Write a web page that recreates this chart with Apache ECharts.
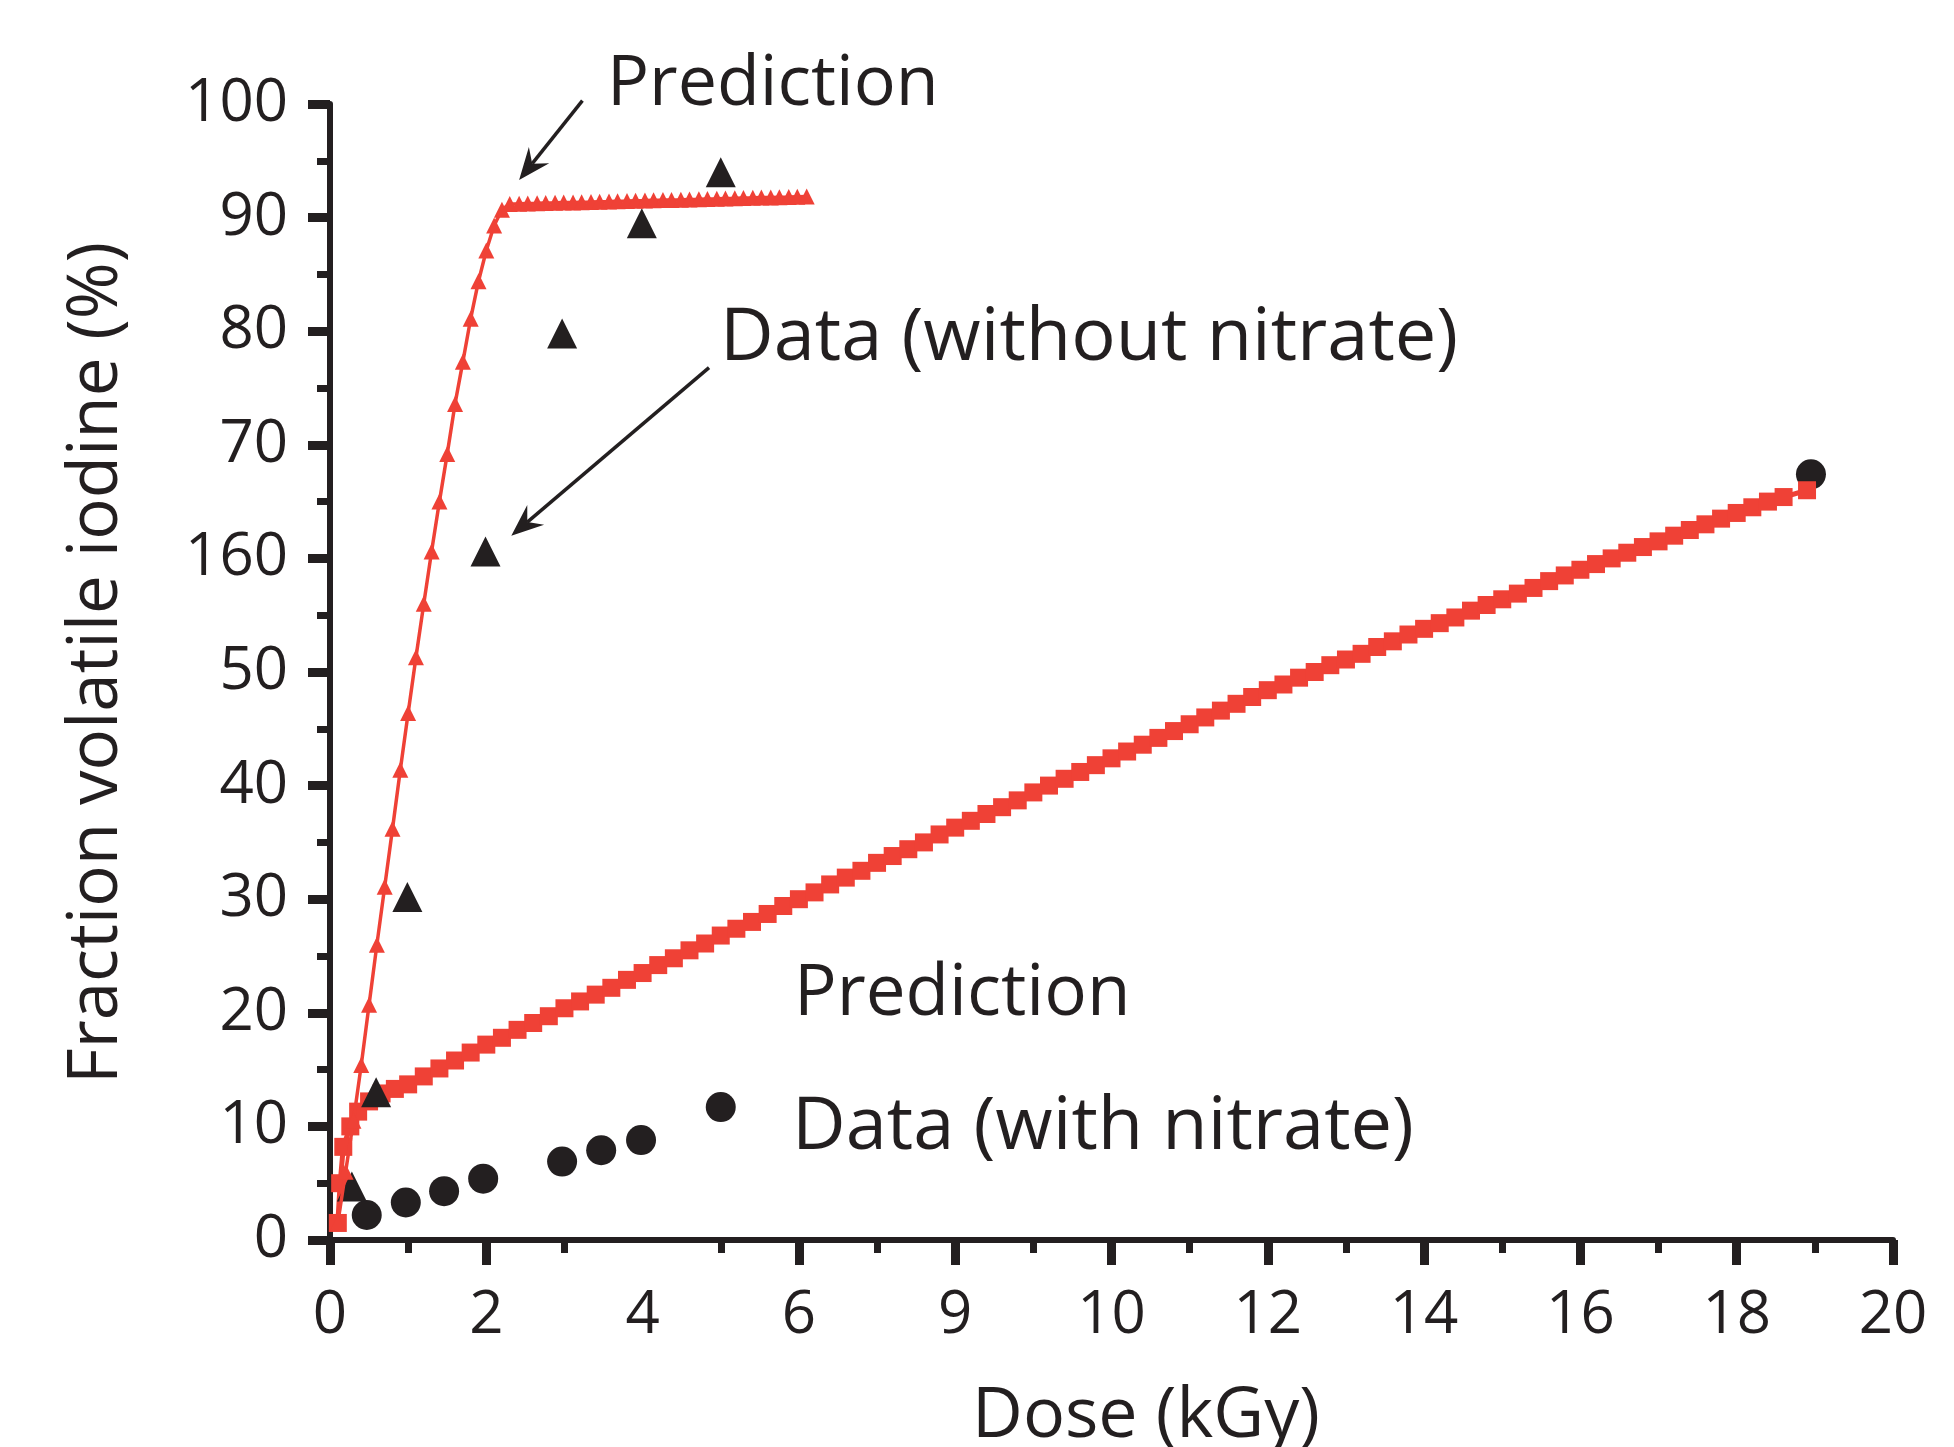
<!DOCTYPE html>
<html><head><meta charset="utf-8">
<script src="https://cdn.jsdelivr.net/npm/echarts@6/dist/echarts.min.js"></script>
<style>html,body{margin:0;padding:0;background:#fff}#c{width:1954px;height:1447px}</style>
</head><body><div id="c"></div>
<script>
// ---- axes / tick labels (as printed in the original figure) ----
const xTickValues = [0, 2, 4, 6, 8, 10, 12, 14, 16, 18, 20];
const xTickLabels = ['0', '2', '4', '6', '9', '10', '12', '14', '16', '18', '20'];
const xMajorTickMarks = [0, 2, 6, 8, 10, 12, 14, 16, 18, 20]; // tick at 4 absent in original
const yTickValues = [0, 10, 20, 30, 40, 50, 60, 70, 80, 90, 100];
const yTickLabels = ['0', '10', '20', '30', '40', '50', '160', '70', '80', '90', '100'];

// ---- Prediction (without nitrate): red line with small triangles ----
const predNoNitrateX = [0.1,0.2,0.3,0.4,0.5,0.6,0.7,0.8,0.9,1.0,1.1,1.2,1.3,1.4,1.5,1.6,1.7,1.8,1.9,2.0,2.1,2.2,
  2.30,2.42,2.53,2.65,2.76,2.88,2.99,3.11,3.22,3.34,3.45,3.57,3.68,3.80,3.91,4.03,4.14,4.26,4.37,4.49,4.60,4.72,4.83,4.95,5.06,5.18,5.29,5.41,5.52,5.64,5.75,5.87,5.98,6.10];
const predNoNitrateY = [1.5,6.0,10.5,15.4,20.7,26.0,31.1,36.2,41.4,46.4,51.3,56.0,60.6,65.0,69.2,73.6,77.3,81.1,84.4,87.1,89.3,90.7,
  91.20,91.22,91.24,91.26,91.28,91.30,91.32,91.34,91.36,91.38,91.40,91.42,91.44,91.46,91.48,91.50,91.52,91.54,91.56,91.58,91.60,91.62,91.64,91.66,91.68,91.70,91.72,91.74,91.76,91.78,91.80,91.82,91.84,91.86];

// ---- Prediction (with nitrate): red line with squares ----
const predNitrateX = [0.1,0.13,0.17,0.26,0.36,0.5,0.66,0.83,1.0,1.2,1.4,1.6,1.8,2.0,2.2,2.4,2.6,2.8,3.0,3.2,3.4,3.6,3.8,4.0,4.2,4.4,4.6,4.8,5.0,5.2,5.4,5.6,5.8,6.0,6.2,6.4,6.6,6.8,7.0,7.2,7.4,7.6,7.8,8.0,8.2,8.4,8.6,8.8,9.0,9.2,9.4,9.6,9.8,10.0,10.2,10.4,10.6,10.8,11.0,11.2,11.4,11.6,11.8,12.0,12.2,12.4,12.6,12.8,13.0,13.2,13.4,13.6,13.8,14.0,14.2,14.4,14.6,14.8,15.0,15.2,15.4,15.6,15.8,16.0,16.2,16.4,16.6,16.8,17.0,17.2,17.4,17.6,17.8,18.0,18.2,18.4,18.6,18.9];
const predNitrateY = [1.5,5.0,8.2,10.0,11.3,12.2,12.9,13.3,13.7,14.4,15.1,15.8,16.5,17.2,17.8,18.5,19.1,19.7,20.4,21.0,21.6,22.2,22.9,23.5,24.2,24.8,25.5,26.1,26.8,27.4,28.0,28.7,29.4,30.0,30.6,31.3,31.9,32.5,33.2,33.8,34.4,35.0,35.7,36.3,36.9,37.5,38.1,38.7,39.4,40.0,40.6,41.2,41.8,42.4,43.0,43.6,44.2,44.8,45.4,46.0,46.6,47.2,47.8,48.4,48.9,49.5,50.0,50.6,51.1,51.6,52.2,52.7,53.3,53.8,54.3,54.8,55.4,55.9,56.4,56.9,57.4,58.0,58.5,59.0,59.5,60.0,60.5,61.0,61.5,62.0,62.5,63.0,63.5,64.0,64.5,65.0,65.4,66.0];

// ---- Data (without nitrate): black triangles ----
const dataNoNitrateX = [0.28, 0.59, 0.99, 1.99, 2.97, 3.99, 5.0];
const dataNoNitrateY = [4.7, 13.0, 30.2, 60.6, 79.8, 89.5, 94.0];

// ---- Data (with nitrate): black circles ----
const dataNitrateX = [0.47, 0.97, 1.46, 1.96, 2.97, 3.47, 3.98, 5.0, 18.95];
const dataNitrateY = [2.2, 3.3, 4.3, 5.4, 6.9, 7.9, 8.8, 11.7, 67.4];

const INK = '#231f20';
const RED = '#ef4136';
const FONT = '"Open Sans", "Noto Sans", sans-serif';
const zip = (a, b) => a.map((v, i) => [v, b[i]]);

const chart = echarts.init(document.getElementById('c'), null, {renderer: 'canvas'});

const axisCommon = {
  type: 'value',
  splitLine: {show: false},
  axisLine: {show: true, onZero: false, lineStyle: {color: INK, width: 6}},
  minorTick: {show: true, splitNumber: 2, length: 13, lineStyle: {color: INK, width: 7}},
  axisLabel: {color: INK, fontSize: 60, fontFamily: FONT}
};

chart.setOption({
  animation: false,
  backgroundColor: '#fff',
  grid: {left: 330, right: 61, top: 104, bottom: 207, containLabel: false},
  xAxis: Object.assign({}, axisCommon, {
    min: 0, max: 20, interval: 2,
    axisTick: {show: true, length: 25, customValues: xMajorTickMarks, lineStyle: {color: INK, width: 9}},
    axisLabel: Object.assign({}, axisCommon.axisLabel, {
      margin: 46,
      formatter: v => { const i = xTickValues.indexOf(v); return i >= 0 ? xTickLabels[i] : ''; }
    })
  }),
  yAxis: Object.assign({}, axisCommon, {
    min: 0, max: 100, interval: 10,
    axisTick: {show: true, length: 22, lineStyle: {color: INK, width: 9}},
    axisLabel: Object.assign({}, axisCommon.axisLabel, {
      margin: 42,
      formatter: v => { const i = yTickValues.indexOf(v); return i >= 0 ? yTickLabels[i] : ''; }
    })
  }),
  series: [
    {
      name: 'Data (with nitrate)', type: 'scatter', z: 2,
      data: zip(dataNitrateX, dataNitrateY),
      symbol: 'circle', symbolSize: 30,
      itemStyle: {color: INK, opacity: 1}
    },
    {
      name: 'Prediction (with nitrate)', type: 'line', z: 3,
      data: zip(predNitrateX, predNitrateY),
      symbol: 'rect', symbolSize: 18, showSymbol: true,
      lineStyle: {color: RED, width: 5},
      itemStyle: {color: RED, borderWidth: 0, opacity: 1}
    },
    {
      name: 'Data (without nitrate)', type: 'scatter', z: 4,
      data: zip(dataNoNitrateX, dataNoNitrateY),
      symbol: 'triangle', symbolSize: 30,
      itemStyle: {color: INK, opacity: 1}
    },
    {
      name: 'Prediction (without nitrate)', type: 'line', z: 5,
      data: zip(predNoNitrateX, predNoNitrateY),
      symbol: 'triangle',
      symbolSize: 16,
      showSymbol: true,
      lineStyle: {color: RED, width: 3.5},
      itemStyle: {color: RED, borderWidth: 0, opacity: 1}
    }
  ]
});

// ---- annotations: arrows defined in data space, texts ----
const arrows = [
  {from: [3.23, 100.3], to: [2.42, 93.3]},
  {from: [4.85, 76.8], to: [2.32, 62.0]}
];
const graphics = [];
arrows.forEach(a => {
  const p0 = chart.convertToPixel({gridIndex: 0}, a.from);
  const p1 = chart.convertToPixel({gridIndex: 0}, a.to);
  const dx = p1[0] - p0[0], dy = p1[1] - p0[1];
  const L = Math.hypot(dx, dy), ux = dx / L, uy = dy / L, nx = -uy, ny = ux;
  const headL = 32, headW = 13, notch = 21;
  const base = [p1[0] - ux * notch, p1[1] - uy * notch];
  graphics.push({
    type: 'line', z: 10, silent: true,
    shape: {x1: p0[0], y1: p0[1], x2: base[0], y2: base[1]},
    style: {stroke: INK, lineWidth: 3.5}
  });
  graphics.push({
    type: 'polygon', z: 10, silent: true,
    shape: {points: [
      p1,
      [p1[0] - ux * headL + nx * headW, p1[1] - uy * headL + ny * headW],
      base,
      [p1[0] - ux * headL - nx * headW, p1[1] - uy * headL - ny * headW]
    ]},
    style: {fill: INK}
  });
});
const texts = [
  {t: 'Prediction', x: 607, y: 85, size: 70},
  {t: 'Data (without nitrate)', x: 720, y: 339, size: 74},
  {t: 'Prediction', x: 794, y: 995, size: 71},
  {t: 'Data (with nitrate)', x: 792, y: 1128, size: 74}
];
texts.forEach(o => graphics.push({
  type: 'text', z: 10, silent: true, x: o.x, y: o.y,
  style: {text: o.t, x: 0, y: 0, font: o.size + 'px ' + FONT, fill: INK,
    align: 'left', verticalAlign: 'middle', textAlign: 'left', textVerticalAlign: 'middle'}
}));
// axis titles
graphics.push({
  type: 'text', z: 10, silent: true, x: 1146, y: 1417,
  style: {text: 'Dose (kGy)', x: 0, y: 0, font: '70px ' + FONT, fill: INK,
    align: 'center', verticalAlign: 'middle', textAlign: 'center', textVerticalAlign: 'middle'}
});
graphics.push({
  type: 'text', z: 10, silent: true, x: 97, y: 663, rotation: Math.PI / 2,
  style: {text: 'Fraction volatile iodine (%)', x: 0, y: 0, font: '69px ' + FONT, fill: INK,
    align: 'center', verticalAlign: 'middle', textAlign: 'center', textVerticalAlign: 'middle'}
});
chart.setOption({graphic: graphics});
</script>
</body></html>
